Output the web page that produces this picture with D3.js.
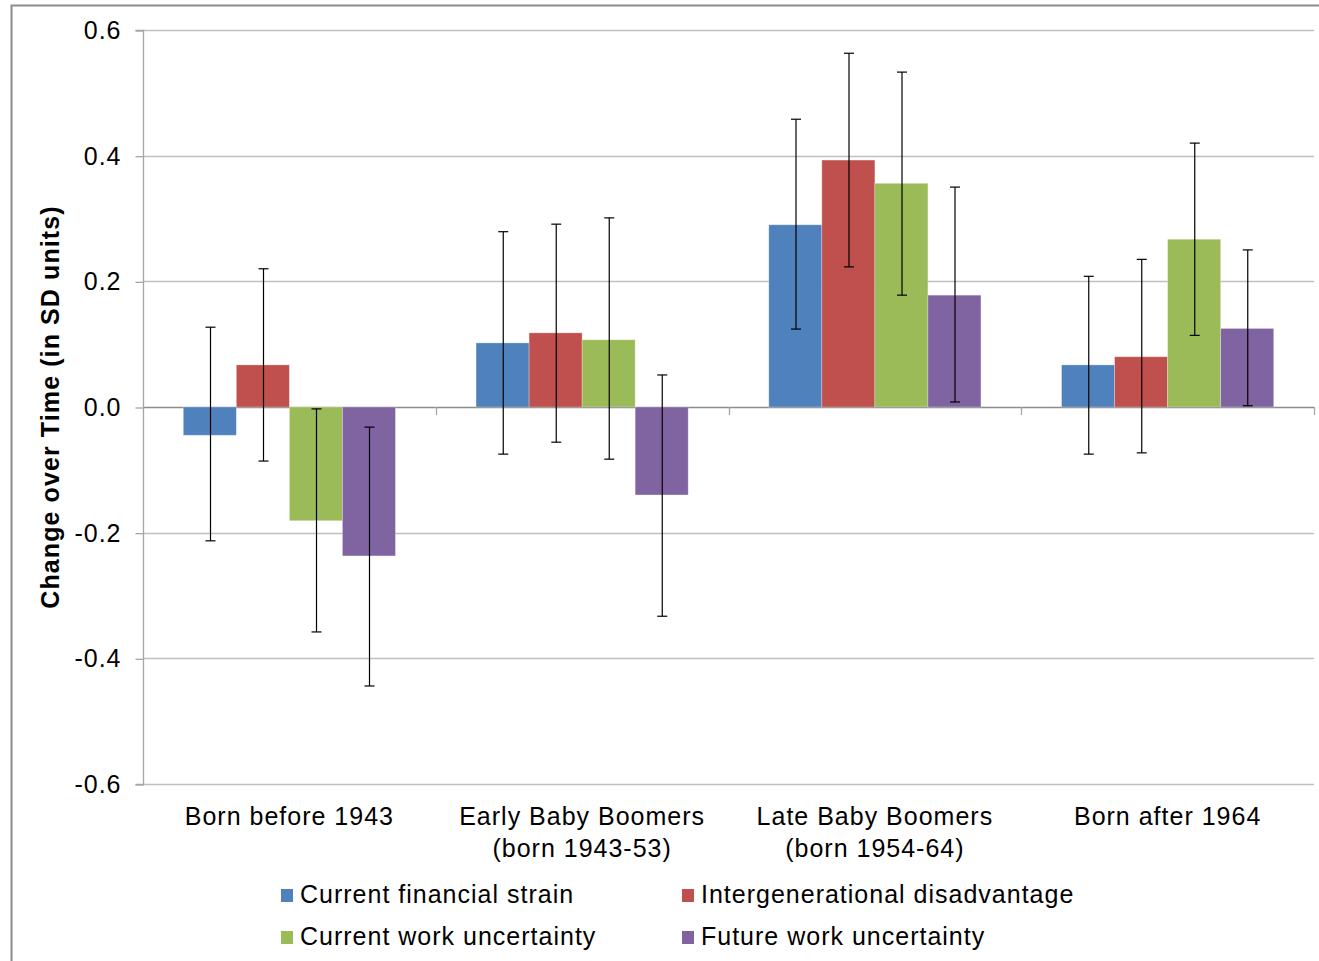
<!DOCTYPE html>
<html>
<head>
<meta charset="utf-8">
<script src="https://cdn.jsdelivr.net/npm/d3@7"></script>
<style>
  body { margin: 0; background: #fff; }
  svg { font-family: "Liberation Sans", Arial, sans-serif; }
</style>
</head>
<body>
<svg id="chart" width="1319" height="961"></svg>
<script>
const categories = [["Born before 1943"], ["Early Baby Boomers", "(born 1943-53)"], ["Late Baby Boomers", "(born 1954-64)"], ["Born after 1964"]];
const seriesNames = ["Current financial strain", "Intergenerational disadvantage", "Current work uncertainty", "Future work uncertainty"];
const colors = ["#4F81BD", "#C0504D", "#9BBB59", "#8064A2"];

// values[series][category]
const values = [
  [-0.045, 0.102, 0.290, 0.067],
  [0.067, 0.118, 0.393, 0.080],
  [-0.181, 0.107, 0.356, 0.267],
  [-0.237, -0.140, 0.178, 0.125]
];
const errHigh = [
  [0.127, 0.279, 0.458, 0.208],
  [0.220, 0.291, 0.563, 0.235],
  [-0.003, 0.301, 0.533, 0.420],
  [-0.032, 0.051, 0.350, 0.250]
];
const errLow = [
  [-0.213, -0.075, 0.124, -0.075],
  [-0.086, -0.056, 0.223, -0.073],
  [-0.358, -0.083, 0.178, 0.114],
  [-0.444, -0.333, 0.008, 0.002]
];
const yTicks = [-0.6, -0.4, -0.2, 0.0, 0.2, 0.4, 0.6];

const svg = d3.select("#chart");
const plot = {left: 143, right: 1314, top: 30, bottom: 784};

// outer frame
svg.append("path")
  .attr("d", "M11.5,961 L11.5,5.5 L1319,5.5")
  .attr("fill", "none").attr("stroke", "#8c8c8c").attr("stroke-width", 2);

const y = d3.scaleLinear().domain([-0.6, 0.6]).range([plot.bottom, plot.top]);
const x0 = d3.scaleBand().domain(d3.range(categories.length)).range([plot.left, plot.right]).paddingInner(0).paddingOuter(0);
const x1 = d3.scaleBand().domain(d3.range(seriesNames.length)).range([0, x0.bandwidth()]).paddingInner(0).paddingOuter(0.76);

// gridlines
svg.append("g").selectAll("line").data(yTicks).enter().append("line")
  .attr("x1", plot.left).attr("x2", plot.right)
  .attr("y1", d => Math.round(y(d)) + 0.5).attr("y2", d => Math.round(y(d)) + 0.5)
  .attr("stroke", d => d === 0 ? "#8c8c8c" : "#c0c0c0").attr("stroke-width", 1.3);

// y axis
const yAxis = d3.axisLeft(y).tickValues(yTicks).tickSize(8).tickPadding(14)
  .tickFormat(d => d === 0 ? "0.0" : d3.format(".1f")(d).replace("−", "-"));
const gy = svg.append("g").attr("transform", `translate(${plot.left + 0.5},0.5)`).call(yAxis);
gy.select(".domain").attr("stroke", "#a6a6a6").attr("stroke-width", 1.3).attr("d", `M-8,${y(0.6)}H0V${y(-0.6)}H-8`);
gy.selectAll(".tick line").attr("stroke", "#a6a6a6").attr("stroke-width", 1.3);
gy.selectAll(".tick text").attr("font-size", 25).attr("letter-spacing", 1).attr("fill", "#000")
  .style("font-family", "Liberation Sans, Arial, sans-serif");

// category ticks on zero line
svg.append("g").selectAll("line").data(d3.range(1, categories.length + 1)).enter().append("line")
  .attr("x1", d => Math.round(plot.left + d * x0.bandwidth()) + 0.5)
  .attr("x2", d => Math.round(plot.left + d * x0.bandwidth()) + 0.5)
  .attr("y1", y(0)).attr("y2", y(0) + 8)
  .attr("stroke", "#a6a6a6").attr("stroke-width", 1.3);

// bars
const groups = svg.append("g").selectAll("g").data(categories).enter().append("g")
  .attr("transform", (d, i) => `translate(${x0(i)},0)`);

groups.each(function(c, ci) {
  const g = d3.select(this);
  seriesNames.forEach((s, si) => {
    const v = values[si][ci];
    g.append("rect")
      .attr("x", x1(si))
      .attr("width", x1.bandwidth())
      .attr("y", y(Math.max(0, v)))
      .attr("height", Math.abs(y(v) - y(0)))
      .attr("fill", colors[si])
      .attr("stroke", "#fff").attr("stroke-opacity", 0.35).attr("stroke-width", 0.8);
  });
  seriesNames.forEach((s, si) => {
    const cx = Math.round(x1(si) + x1.bandwidth() / 2) + 0.5;
    const hi = y(errHigh[si][ci]), lo = y(errLow[si][ci]);
    g.append("line").attr("x1", cx).attr("x2", cx).attr("y1", hi).attr("y2", lo)
      .attr("stroke", "#000").attr("stroke-width", 1.2);
    [hi, lo].forEach(yy => {
      g.append("line").attr("x1", cx - 5).attr("x2", cx + 5).attr("y1", yy).attr("y2", yy)
        .attr("stroke", "#000").attr("stroke-width", 1.2);
    });
  });
});

// category labels
groups.append("text")
  .attr("x", x0.bandwidth() / 2)
  .attr("text-anchor", "middle")
  .attr("font-size", 25)
  .attr("letter-spacing", 1)
  .attr("fill", "#000")
  .selectAll("tspan").data(d => d).enter().append("tspan")
  .attr("x", x0.bandwidth() / 2)
  .attr("y", (d, i) => 825 + i * 32)
  .text(d => d);

// y title
svg.append("text")
  .attr("transform", `translate(59,${y(0)}) rotate(-90)`)
  .attr("text-anchor", "middle")
  .attr("font-size", 25)
  .attr("letter-spacing", 1.1)
  .attr("font-weight", "bold")
  .attr("fill", "#000")
  .text("Change over Time (in SD units)");

// legend
const legendPos = [[281, 895], [682, 895], [281, 937], [682, 937]];
const legend = svg.append("g").selectAll("g").data(seriesNames).enter().append("g")
  .attr("transform", (d, i) => `translate(${legendPos[i][0]},${legendPos[i][1]})`);
legend.append("rect").attr("x", 0).attr("y", -6).attr("width", 12).attr("height", 13)
  .attr("fill", (d, i) => colors[i]);
legend.append("text").attr("x", 19).attr("y", 8).attr("font-size", 25).attr("letter-spacing", 1)
  .attr("fill", "#000").text(d => d);
</script>
</body>
</html>
